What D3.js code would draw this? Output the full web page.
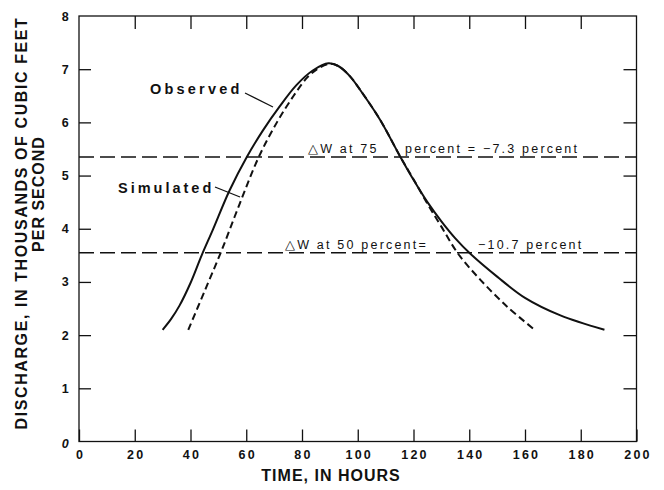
<!DOCTYPE html>
<html>
<head>
<meta charset="utf-8">
<script src="https://cdn.jsdelivr.net/npm/d3@7"></script>
<style>
  body { margin: 0; background: #fff; }
  svg text { font-family: "Liberation Sans", Arial, Helvetica, sans-serif; fill: #111; }
</style>
</head>
<body>
<div id="chart"></div>
<script>
// data
const timeTicks = [0, 20, 40, 60, 80, 100, 120, 140, 160, 180, 200];
const dischargeTicks = [0, 1, 2, 3, 4, 5, 6, 7, 8];

const observedTime = [30, 33, 36, 40, 44, 48, 54, 60.2, 66, 72, 78, 84, 89.5, 93, 97, 101, 108, 115.3, 120, 125, 130, 135, 140.4, 150, 160, 172.7, 188.5];
const observedQ    = [2.1, 2.3, 2.55, 2.98, 3.5, 3.98, 4.72, 5.35, 5.85, 6.3, 6.7, 6.98, 7.11, 7.06, 6.88, 6.6, 6.05, 5.35, 4.92, 4.5, 4.14, 3.82, 3.53, 3.1, 2.7, 2.37, 2.1];

const simulatedTime = [39.2, 45, 51, 57.5, 64.5, 71, 77, 82, 86, 90, 93, 97, 101, 108, 115.3, 120, 125, 130, 136, 144, 153.5, 163];
const simulatedQ    = [2.1, 2.82, 3.57, 4.45, 5.35, 6.0, 6.5, 6.85, 7.02, 7.1, 7.06, 6.88, 6.6, 6.05, 5.35, 4.93, 4.47, 4.04, 3.53, 3.04, 2.54, 2.12];

const levelQ = [5.35, 3.55];

const width = 664, height = 490;
const x = d3.scaleLinear().domain([0, 200]).range([79, 636.5]);
const y = d3.scaleLinear().domain([0, 8]).range([441.5, 16]);

const svg = d3.select("#chart").append("svg")
  .attr("width", width).attr("height", height);

// frame
svg.append("rect")
  .attr("x", x(0)).attr("y", y(8))
  .attr("width", x(200) - x(0)).attr("height", y(0) - y(8))
  .attr("fill", "none").attr("stroke", "#111").attr("stroke-width", 1.3);

function styleAxis(g) {
  g.select(".domain").remove();
  g.selectAll("line").attr("stroke", "#111").attr("stroke-width", 1.3);
  g.selectAll("text")
    .style("font-size", "12.5px").style("letter-spacing", "2.2px").style("font-weight", "bold");
}

const xAxis = svg.append("g").attr("transform", `translate(0,${y(0)})`)
  .call(d3.axisBottom(x).tickValues(timeTicks).tickSizeInner(-12).tickSizeOuter(0).tickPadding(9))
  .call(styleAxis);
xAxis.selectAll("text").attr("dx", 1);

svg.append("g").attr("transform", `translate(0,${y(8)})`)
  .call(d3.axisTop(x).tickValues(timeTicks.slice(1, -1)).tickSizeInner(-13).tickSizeOuter(0).tickFormat(""))
  .call(styleAxis);

const yAxis = svg.append("g").attr("transform", `translate(${x(0)},0)`)
  .call(d3.axisLeft(y).tickValues(dischargeTicks).tickSizeInner(-12).tickSizeOuter(0).tickPadding(8))
  .call(styleAxis);
yAxis.selectAll("text").filter(d => d === 0).style("font-style", "italic").attr("dy", "0.45em");
yAxis.selectAll("line").filter(d => d === 0 || d === 8).remove();

svg.append("g").attr("transform", `translate(${x(200)},0)`)
  .call(d3.axisRight(y).tickValues(dischargeTicks.slice(1, -1)).tickSizeInner(-13).tickSizeOuter(0).tickFormat(""))
  .call(styleAxis);

// axis titles
const titleStyle = el => el.style("font-size", "16px").style("font-weight", "bold");

titleStyle(svg.append("text"))
  .attr("x", 331).attr("y", 481)
  .attr("text-anchor", "middle")
  .style("letter-spacing", "1px")
  .text("TIME, IN HOURS");

titleStyle(svg.append("text"))
  .attr("transform", "translate(26.5,223) rotate(-90)")
  .attr("text-anchor", "middle")
  .style("letter-spacing", "1.6px")
  .text("DISCHARGE, IN THOUSANDS OF CUBIC FEET");
titleStyle(svg.append("text"))
  .attr("transform", "translate(43.5,194) rotate(-90)")
  .attr("text-anchor", "middle")
  .style("letter-spacing", "1px")
  .text("PER SECOND");

// threshold lines
svg.selectAll(".level").data(levelQ).join("line")
  .attr("class", "level")
  .attr("x1", x(0)).attr("x2", x(200))
  .attr("y1", d => y(d)).attr("y2", d => y(d))
  .attr("stroke", "#111").attr("stroke-width", 1.4)
  .attr("stroke-dasharray", "15,6");

function addText(t, tx, ty) {
  return svg.append("text").attr("x", tx).attr("y", ty)
    .style("font-size", "12.5px").style("letter-spacing", "2.2px")
    .text(t);
}
addText("\u25B3W at 75", 308, y(levelQ[0]) - 4);
addText("percent = \u22127.3 percent", 405, y(levelQ[0]) - 4);
addText("\u25B3W at 50 percent=", 285, y(levelQ[1]) - 4);
addText("\u221210.7 percent", 478, y(levelQ[1]) - 4);

// curves
const line = d3.line().curve(d3.curveCatmullRom.alpha(0.5))
  .x(d => x(d[0])).y(d => y(d[1]));

svg.append("path")
  .datum(observedTime.map((t, i) => [t, observedQ[i]]))
  .attr("d", line)
  .attr("fill", "none").attr("stroke", "#111").attr("stroke-width", 2);

svg.append("path")
  .datum(simulatedTime.map((t, i) => [t, simulatedQ[i]]))
  .attr("d", line)
  .attr("fill", "none").attr("stroke", "#111").attr("stroke-width", 2)
  .attr("stroke-dasharray", "7,4");

// curve labels
svg.append("text").attr("x", 150).attr("y", 94)
  .style("font-size", "14.5px").style("font-weight", "bold").style("letter-spacing", "3.2px")
  .text("Observed");
svg.append("line").attr("x1", 245).attr("y1", 93).attr("x2", 273).attr("y2", 107)
  .attr("stroke", "#111").attr("stroke-width", 1.2);

svg.append("text").attr("x", 118).attr("y", 193)
  .style("font-size", "14.5px").style("font-weight", "bold").style("letter-spacing", "3px")
  .text("Simulated");
svg.append("line").attr("x1", 215).attr("y1", 187).attr("x2", 240).attr("y2", 197)
  .attr("stroke", "#111").attr("stroke-width", 1.2);
</script>
</body>
</html>
